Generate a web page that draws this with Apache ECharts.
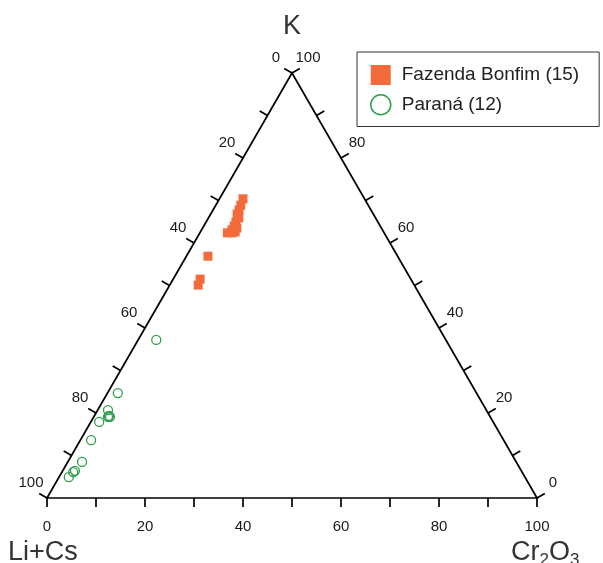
<!DOCTYPE html>
<html>
<head>
<meta charset="utf-8">
<title>Li+Cs – K – Cr2O3</title>
<script src="https://cdn.jsdelivr.net/npm/echarts@6/dist/echarts.min.js"></script>
<style>
  html, body { margin: 0; padding: 0; background: #fff; }
  #chart { width: 603px; height: 563px; }
</style>
</head>
<body>
<div id="chart"></div>
<script>
// Compositions in percent: Li+Cs, K, Cr2O3
const fazendaLiCs  = [24.8, 26.0, 26.9, 27.8, 27.9, 29.0, 29.8, 29.5, 30.7, 30.3, 32.0, 31.0, 38.7, 43.0, 44.1];
const fazendaK     = [70.4, 68.9, 67.8, 66.8, 65.9, 64.9, 64.0, 63.5, 63.1, 62.6, 62.4, 62.4, 56.9, 51.5, 50.1];
const fazendaCr2O3 = [ 4.8,  5.1,  5.3,  5.4,  6.2,  6.1,  6.2,  7.0,  6.2,  7.1,  5.6,  6.6,  4.4,  5.5,  5.8];

const paranaLiCs  = [59.1, 73.2, 77.2, 77.7, 77.6, 78.0, 80.4, 84.2, 88.6, 91.1, 91.6, 93.1];
const paranaK     = [37.2, 24.7, 20.7, 19.3, 19.1, 19.1, 17.9, 13.6,  8.5,  6.4,  6.1,  4.9];
const paranaCr2O3 = [ 3.7,  2.1,  2.1,  3.0,  3.3,  2.9,  1.7,  2.2,  2.9,  2.5,  2.3,  2.0];

const tickValues  = [0, 10, 20, 30, 40, 50, 60, 70, 80, 90, 100];
const labelValues = [0, 20, 40, 60, 80, 100];

const SQ = Math.sqrt(3) / 2;
const FONT = '"Liberation Sans", Arial, sans-serif';

// ternary composition -> cartesian position in a unit-100 equilateral triangle
function toXY(liCs, k, cr) {
  const t = liCs + k + cr;
  const kn = k / t * 100, cn = cr / t * 100;
  return [cn + kn / 2, kn * SQ];
}

function seriesPoints(li, k, cr) {
  return li.map((v, i) => toXY(v, k[i], cr[i]));
}

const TICK = 9;
const INK = '#000';
const LW = 1.7;

function renderFrame(params, api) {
  const children = [];
  const top = api.coord(toXY(0, 100, 0));
  const bl = api.coord(toXY(100, 0, 0));
  const br = api.coord(toXY(0, 0, 100));
  children.push({
    type: 'polygon',
    shape: { points: [top, bl, br] },
    style: { fill: 'none', stroke: INK, lineWidth: LW }
  });
  const line = (p, dx, dy) => ({
    type: 'line',
    shape: { x1: p[0], y1: p[1], x2: p[0] + dx, y2: p[1] + dy },
    style: { stroke: INK, lineWidth: LW }
  });
  const label = (p, dx, dy, txt) => ({
    type: 'text',
    style: {
      x: p[0] + dx, y: p[1] + dy, text: String(txt),
      fill: '#1a1a1a', fontSize: 15, fontFamily: FONT,
      align: 'center', verticalAlign: 'middle'
    }
  });
  tickValues.forEach(v => {
    // left edge: Li+Cs
    const pl = api.coord(toXY(v, 100 - v, 0));
    children.push(line(pl, -0.866 * TICK, -0.5 * TICK));
    // right edge: K
    const pr = api.coord(toXY(0, v, 100 - v));
    children.push(line(pr, 0.866 * TICK, -0.5 * TICK));
    // bottom edge: Cr2O3
    const pb = api.coord(toXY(100 - v, 0, v));
    children.push(line(pb, 0, TICK));
  });
  labelValues.forEach(v => {
    children.push(label(api.coord(toXY(v, 100 - v, 0)), -16, -15, v));
    children.push(label(api.coord(toXY(0, v, 100 - v)), 16, -15, v));
    children.push(label(api.coord(toXY(100 - v, 0, v)), 0, 29, v));
  });
  const title = (x, y, txt, size, align) => ({
    type: 'text',
    style: {
      x: x, y: y, text: txt, fill: '#333', fontSize: size, fontFamily: FONT,
      align: align, verticalAlign: 'middle'
    }
  });
  children.push(title(top[0], top[1] - 46, 'K', 27, 'center'));
  children.push(title(bl[0] - 39, bl[1] + 55, 'Li+Cs', 27, 'left'));
  // Cr2O3 with subscripts
  const cx = br[0] - 26, cy = br[1] + 55;
  children.push(title(cx, cy, 'Cr', 27, 'left'));
  children.push(title(cx + 28.5, cy + 7, '2', 17, 'left'));
  children.push(title(cx + 38, cy, 'O', 27, 'left'));
  children.push(title(cx + 59, cy + 7, '3', 17, 'left'));
  return { type: 'group', children: children };
}

const chart = echarts.init(document.getElementById('chart'), null, { renderer: 'canvas' });
chart.setOption({
  animation: false,
  backgroundColor: '#fff',
  grid: { left: 47, top: 73, width: 490, height: 425 },
  xAxis: { type: 'value', min: 0, max: 100, show: false },
  yAxis: { type: 'value', min: 0, max: 100 * SQ, show: false },
  legend: {
    orient: 'vertical',
    left: 357, top: 52,
    padding: [13, 20, 11, 13],
    borderColor: '#333', borderWidth: 1,
    itemWidth: 20, itemHeight: 20, itemGap: 9,
    textStyle: { fontSize: 19, fontFamily: FONT, color: '#222', padding: [0, 0, 0, 6] },
    data: [
      { name: 'Fazenda Bonfim (15)', icon: 'rect' },
      { name: 'Paraná (12)', icon: 'circle',
        itemStyle: { color: '#fff', borderColor: '#2e9e4a', borderWidth: 1.5 } }
    ]
  },
  series: [
    {
      type: 'custom',
      silent: true,
      clip: false,
      z: 1,
      renderItem: renderFrame,
      data: [[0, 0]]
    },
    {
      name: 'Fazenda Bonfim (15)',
      type: 'scatter',
      symbol: 'rect',
      symbolSize: 9,
      z: 3,
      itemStyle: { color: '#f36a3b', opacity: 1 },
      data: seriesPoints(fazendaLiCs, fazendaK, fazendaCr2O3)
    },
    {
      name: 'Paraná (12)',
      type: 'scatter',
      symbol: 'circle',
      symbolSize: 9,
      z: 3,
      itemStyle: { color: 'rgba(255,255,255,0)', borderColor: '#2e9e4a', borderWidth: 1.3, opacity: 1 },
      data: seriesPoints(paranaLiCs, paranaK, paranaCr2O3)
    }
  ]
});
</script>
</body>
</html>
